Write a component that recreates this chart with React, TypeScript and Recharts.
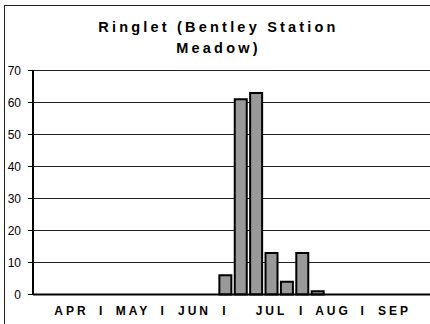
import { BarChart, Bar, XAxis, YAxis, CartesianGrid } from 'recharts';

// weekly counts, Apr -> Sep (one slot per week)
const weekLabels = [
  '', '', 'APR', '', 'I', '', 'MAY', '', 'I', '', 'JUN', '', 'I',
  '', '', 'JUL', '', 'I', '', 'AUG', '', 'I', '', 'SEP', '', '',
];
const ringletCounts = [
  0, 0, 0, 0, 0, 0, 0, 0, 0, 0, 0, 0, 6,
  61, 63, 13, 4, 13, 1, 0, 0, 0, 0, 0, 0, 0,
];
const yTicks = [0, 10, 20, 30, 40, 50, 60, 70];
const titleLines = ['Ringlet (Bentley Station', 'Meadow)'];

const data = ringletCounts.map((count, week) => ({ week, count }));

const FONT = '"Liberation Sans", Arial, sans-serif';

export default function App() {
  return (
    <div
      style={{
        position: 'fixed',
        left: 0,
        top: 0,
        width: 430,
        height: 324,
        overflow: 'hidden',
        background: '#fff',
        fontFamily: FONT,
      }}
    >
      <div
        style={{
          position: 'absolute',
          left: 4,
          top: 5,
          width: 500,
          height: 400,
          borderLeft: '1px solid #222',
          borderTop: '1px solid #222',
        }}
      />
      {titleLines.map((line, i) => (
        <div
          key={line}
          style={{
            position: 'absolute',
            left: 0,
            top: 17 + i * 21,
            width: 437,
            textAlign: 'center',
            fontSize: 14.5,
            fontWeight: 'bold',
            lineHeight: '21px',
            letterSpacing: 3.2,
            color: '#000',
          }}
        >
          {line}
        </div>
      ))}
      <div style={{ position: 'absolute', left: 0, top: 0 }}>
        <BarChart
          width={440}
          height={324}
          data={data}
          margin={{ top: 70.5, right: 7, bottom: 0, left: 0 }}
          barCategoryGap={1.75}
        >
          <CartesianGrid vertical={false} stroke="#222" strokeWidth={1} />
          <XAxis
            dataKey="week"
            type="category"
            interval={0}
            height={29.5}
            tickFormatter={(i: number) => weekLabels[i] ?? ''}
            tickLine={false}
            tickSize={0}
            tickMargin={12}
            axisLine={{ stroke: '#000', strokeWidth: 2 }}
            tick={{
              fontSize: 12,
              fontWeight: 'bold',
              fill: '#000',
              fontFamily: FONT,
              letterSpacing: 3,
            }}
          />
          <YAxis
            width={33}
            domain={[0, 70]}
            ticks={yTicks}
            interval={0}
            tickSize={5}
            tickMargin={7}
            axisLine={{ stroke: '#000', strokeWidth: 2 }}
            tickLine={{ stroke: '#000' }}
            tick={{ fontSize: 12, fill: '#000', fontFamily: FONT }}
          />
          <Bar
            dataKey="count"
            fill="#999999"
            stroke="#000"
            strokeWidth={2}
            isAnimationActive={false}
          />
        </BarChart>
      </div>
    </div>
  );
}
